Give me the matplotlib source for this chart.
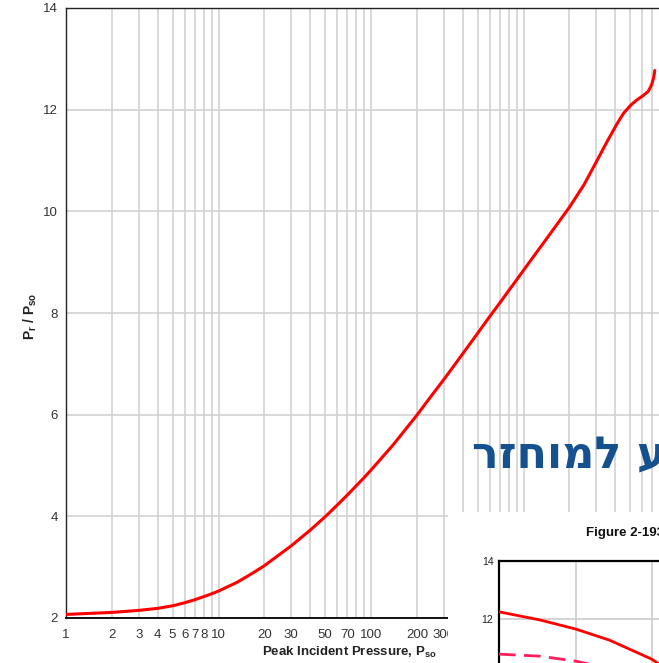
import matplotlib
matplotlib.use("Agg")
import matplotlib.pyplot as plt
from matplotlib.patches import Rectangle
from matplotlib.ticker import FixedLocator, NullLocator, FixedFormatter

plt.rcParams["font.family"] = ["Liberation Sans", "DejaVu Sans"]
plt.rcParams["mathtext.fontset"] = "custom"
plt.rcParams["mathtext.rm"] = "Liberation Sans"
plt.rcParams["mathtext.bf"] = "Liberation Sans:bold"

# Reflected pressure ratio vs. peak incident pressure
p_so = [1, 2, 3, 4, 5, 6, 7, 8, 9, 10, 13.2, 16.9, 20, 30, 40, 50, 60, 70,
        80, 90, 100, 140, 200, 243, 300, 400, 500, 600, 700, 800, 900, 1000,
        1400, 2000, 2500, 3060, 3500, 4100, 4530, 5060, 5530, 6110, 6580,
        6900, 7150, 7260]
pr_ratio = [2.07, 2.11, 2.15, 2.19, 2.24, 2.30, 2.36, 2.42, 2.475, 2.53, 2.70,
            2.89, 3.03, 3.42, 3.73, 3.99, 4.22, 4.42, 4.60, 4.76, 4.91, 5.41,
            5.99, 6.33, 6.69, 7.20, 7.60, 7.93, 8.20, 8.44, 8.65, 8.84, 9.44,
            10.08, 10.53, 11.02, 11.35, 11.72, 11.93, 12.09, 12.19, 12.28,
            12.36, 12.48, 12.64, 12.77]

x_tick_values = [1, 2, 3, 4, 5, 6, 7, 8, 10, 20, 30, 50, 70, 100, 200, 300]
x_tick_labels = ["1", "2", "3", "4", "5", "6", "7", "8", "10", "20", "30",
                 "50", "70", "100", "200", "300"]
y_tick_values = [2, 4, 6, 8, 10, 12, 14]

# Second figure (partly visible)
inset_x = [0.0, 0.535, 1.0, 1.44, 1.99, 2.1]
inset_solid = [12.26, 11.98, 11.67, 11.29, 10.64, 10.45]
inset_dash_x = [0.0, 0.535, 1.0, 1.3]
inset_dashed = [10.81, 10.74, 10.57, 10.40]
inset_y_ticks = [12, 14]

overlay_text = "ע למוחזר"
figure_title = "Figure 2-193"

W, H = 659, 663
fig = plt.figure(figsize=(W / 100, H / 100), dpi=100)


def rect(x0, y_top, x1, y_bot):
    return [x0 / W, 1 - y_bot / H, (x1 - x0) / W, (y_bot - y_top) / H]


ax = fig.add_axes(rect(66, 8, 676, 618))
ax.set_xscale("log")
ax.set_xlim(1, 10000)
ax.set_ylim(2, 14)

grid_x = [m * 10 ** d for d in range(4) for m in range(1, 10)]
for gx in grid_x:
    ax.axvline(gx, color="#d2d2d2", lw=1.2, zorder=0)
for gy in y_tick_values[1:-1]:
    ax.axhline(gy, color="#d2d2d2", lw=1.2, zorder=0)

ax.plot(p_so, pr_ratio, color="#ff0000", lw=2.2, solid_capstyle="round",
        solid_joinstyle="round", zorder=3)

ax.xaxis.set_major_locator(FixedLocator(x_tick_values))
ax.xaxis.set_major_formatter(FixedFormatter(x_tick_labels))
ax.xaxis.set_minor_locator(NullLocator())
ax.set_yticks(y_tick_values)
ax.tick_params(axis="both", length=0, labelsize=9.5, colors="#333333")
ax.tick_params(axis="x", pad=8)
ax.tick_params(axis="y", pad=6)
for side in ["left", "top"]:
    ax.spines[side].set_linewidth(1.0)
    ax.spines[side].set_color("#222222")
ax.spines["bottom"].set_linewidth(1.4)
ax.spines["bottom"].set_color("#111111")
ax.spines["right"].set_visible(False)

fig.text(30 / W, 1 - 316 / H, r"P$_\mathbf{r}$ / P$_\mathbf{so}$", rotation=90,
         ha="center", va="center", fontsize=10, fontweight="bold", color="#222222")
fig.text(262 / W, 1 - 652 / H, r"Peak Incident Pressure, P$_\mathbf{so}$",
         ha="left", va="center", fontsize=9.5, fontweight="bold", color="#222222")

# Hebrew heading (drawn in visual order)
fig.text(472 / W, 1 - 468 / H, overlay_text[::-1], ha="left", va="baseline",
         fontsize=32, fontweight="bold", color="#16518f", family="DejaVu Sans",
         zorder=5)

# White panel holding the next figure
fig.patches.append(Rectangle((448 / W, 0), 1 - 448 / W, 1 - 512 / H,
                             transform=fig.transFigure, facecolor="white",
                             edgecolor="none", zorder=4))

fig.text(586 / W, 1 - 533 / H, figure_title, ha="left", va="center",
         fontsize=9.5, fontweight="bold", color="#111111", zorder=6)

iax = fig.add_axes(rect(499, 561, 499 + 4 * 76.7, 561 + 10 * 29.2))
iax.set_zorder(6)
iax.set_xlim(0, 4)
iax.set_ylim(4, 14)
for gx in [1, 2, 3]:
    iax.axvline(gx, color="#cccccc", lw=1.2, zorder=0)
for gy in [6, 8, 10, 12]:
    iax.axhline(gy, color="#cccccc", lw=1.2, zorder=0)
iax.plot(inset_x, inset_solid, color="#ff0000", lw=2.0, zorder=3)
iax.plot(inset_dash_x, inset_dashed, color="#ff1f5a", lw=2.0, dashes=(6, 3),
         zorder=3)
iax.set_xticks([])
iax.set_yticks(inset_y_ticks)
iax.tick_params(axis="y", length=0, labelsize=7.5, colors="#222222", pad=4)
for side in ["left", "top"]:
    iax.spines[side].set_linewidth(1.6)
    iax.spines[side].set_color("#000000")

fig.savefig("out.png", dpi=100)
